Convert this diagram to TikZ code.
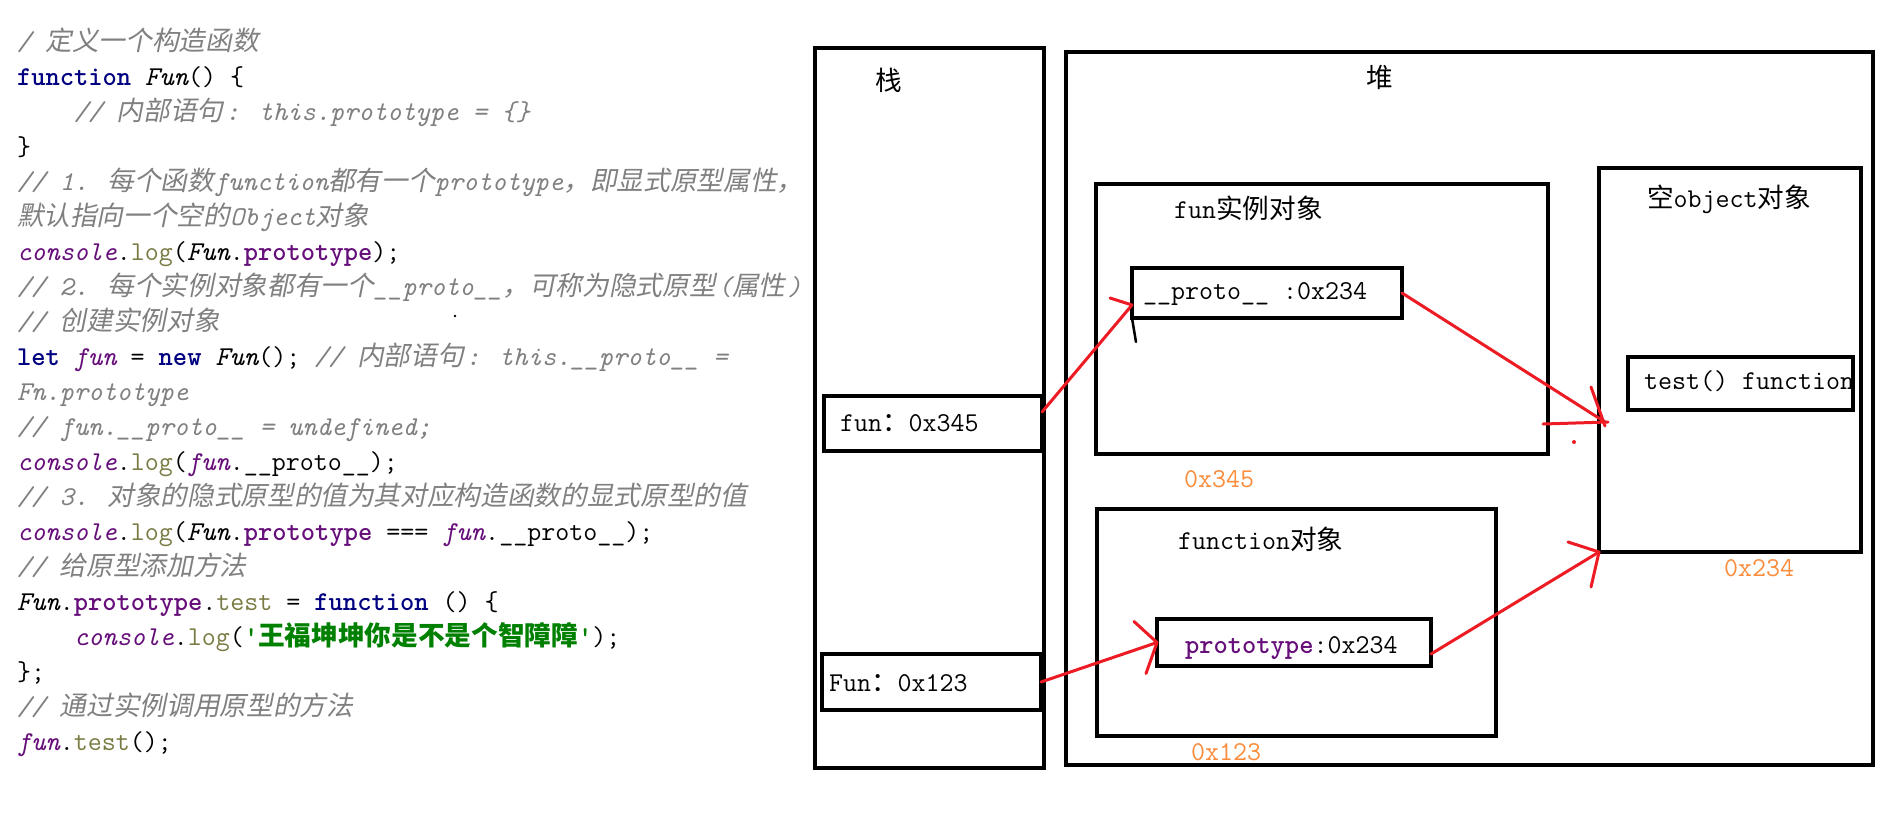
\documentclass[tikz,border=0pt]{standalone}
\usepackage{fontspec}
\newfontfamily\cjk[Scale=0.98]{Noto Sans CJK SC}
\newfontfamily\cjksl[Scale=0.98,FakeSlant=0.2]{Noto Sans CJK SC}
\definecolor{cmtgray}{RGB}{128,128,128}
\definecolor{kwnavy}{RGB}{0,0,128}
\definecolor{purp}{RGB}{102,14,122}
\definecolor{olivec}{RGB}{122,122,67}
\definecolor{strgreen}{RGB}{0,128,0}
\definecolor{addrorange}{RGB}{250,140,60}
\definecolor{redc}{RGB}{237,28,36}
\newcommand\cmt[1]{{\color{cmtgray}\itshape #1}}
\newcommand\cmtc[1]{{\color{cmtgray}\cjksl #1}}
\newcommand\kwd[1]{{\color{kwnavy}\bfseries #1}}
\newcommand\prp[1]{{\color{purp}\bfseries #1}}
\newcommand\pvar[1]{{\color{purp}\itshape #1}}
\newcommand\olv[1]{{\color{olivec}#1}}
\newcommand\itl[1]{{\itshape #1}}
\newcommand\cjt[1]{{\cjk #1}}
\newcommand\strg[1]{{\color{strgreen}\bfseries #1}}
\begin{document}
\begin{tikzpicture}[x=1pt,y=-1pt,
  font=\ttfamily\fontsize{27.2pt}{35pt}\selectfont,
  codeline/.style={anchor=base west, inner sep=0pt, outer sep=0pt},
  lbl/.style={anchor=base west, inner sep=0pt, outer sep=0pt},
  clbl/.style={anchor=center, inner sep=0pt, outer sep=0pt},
  addr/.style={lbl, text=addrorange},
  box/.style={draw, line width=4pt, inner sep=0pt, outer sep=0pt, anchor=north west},
  redln/.style={draw=redc, line width=3pt, line cap=round},
  tickln/.style={draw=black, line width=2.5pt, line cap=round}]
\useasboundingbox (0,0) rectangle (1904,827);
\fill[white] (0,0) rectangle (1904,827);

% ---------- code ----------
\node[codeline] (l1) at (17,50) {\cmt{/ }\cmtc{定义一个构造函数}};
\node[codeline] (l2) at (17,85) {\kwd{function} \itl{Fun}() \{};
\node[codeline] (l3) at (74,120) {\cmt{// }\cmtc{内部语句}\kern2pt\cmt{: this.prototype = \{\}}};
\node[codeline] (l4) at (17,155) {\}};
\node[codeline] (l5) at (17,190) {\cmt{// 1. }\cmtc{每个函数}\cmt{function}\cmtc{都有一个}\cmt{prototype}\cmtc{，即显式原型属性，}};
\node[codeline] (l6) at (17,225) {\cmtc{默认指向一个空的}\cmt{Object}\cmtc{对象}};
\node[codeline] (l7) at (17,260) {\pvar{console}.\olv{log}(\itl{Fun}.\prp{prototype});};
\node[codeline] (l8) at (17,295) {\cmt{// 2. }\cmtc{每个实例对象都有一个}\cmt{\_\_proto\_\_}\cmtc{，可称为隐式原型}\kern2pt\cmt{(}\cmtc{属性}\kern2pt\cmt{)}};
\node[codeline] (l9) at (17,330) {\cmt{// }\cmtc{创建实例对象}};
\node[codeline] (l10) at (17,365) {\kwd{let} \pvar{fun} = \kwd{new} \itl{Fun}(); \cmt{// }\cmtc{内部语句}\kern2pt\cmt{: this.\_\_proto\_\_ =}};
\node[codeline] (l11) at (17,400) {\cmt{Fn.prototype}};
\node[codeline] (l12) at (17,435) {\cmt{// fun.\_\_proto\_\_ = undefined;}};
\node[codeline] (l13) at (17,470) {\pvar{console}.\olv{log}(\pvar{fun}.\_\_proto\_\_);};
\node[codeline] (l14) at (17,505) {\cmt{// 3. }\cmtc{对象的隐式原型的值为其对应构造函数的显式原型的值}};
\node[codeline] (l15) at (17,540) {\pvar{console}.\olv{log}(\itl{Fun}.\prp{prototype} === \pvar{fun}.\_\_proto\_\_);};
\node[codeline] (l16) at (17,575) {\cmt{// }\cmtc{给原型添加方法}};
\node[codeline] (l17) at (17,610) {\itl{Fun}.\prp{prototype}.\olv{test} = \kwd{function} () \{};
\node[codeline] (l18) at (74,645) {\pvar{console}.\olv{log}(\strg{'\cjt{王福坤坤你是不是个智障障}'});};
\node[codeline] (l19) at (17,680) {\};};
\node[codeline] (l20) at (17,715) {\cmt{// }\cmtc{通过实例调用原型的方法}};
\node[codeline] (l21) at (17,750) {\pvar{fun}.\olv{test}();};
\fill (455,316) circle (1.3pt);

% ---------- boxes ----------
\node[box, minimum width=229pt, minimum height=720pt] (stack) at (815,48) {};
\node[box, minimum width=807pt, minimum height=713pt] (heap) at (1066,52) {};
\node[box, minimum width=452pt, minimum height=270pt] (funobj) at (1096,184) {};
\node[box, minimum width=270pt, minimum height=50pt] (protobox) at (1132,268) {};
\node[box, minimum width=218pt, minimum height=55pt] (stackfun) at (824,396) {};
\node[box, minimum width=399pt, minimum height=227pt] (fnobj) at (1097,509) {};
\node[box, minimum width=274pt, minimum height=47pt] (protoval) at (1157,619) {};
\node[box, minimum width=219pt, minimum height=56pt] (stackFun) at (822,654) {};
\node[box, minimum width=262pt, minimum height=384pt] (emptyobj) at (1599,168) {};
\node[box, minimum width=225pt, minimum height=53pt] (testbox) at (1628,357) {};

% ---------- labels ----------
\node[clbl] (stacklbl) at (889,80) {\cjt{栈}};
\node[clbl] (heaplbl) at (1380,77) {\cjt{堆}};
\node[lbl] (funobjlbl) at (1174,218) {fun\cjt{实例对象}};
\node[lbl] (protolbl) at (1143,299) {\_\_proto\_\_ :0x234};
\node[lbl] (stackfunlbl) at (840,431) {fun\cjt{：}0x345};
\node[addr] (addr345) at (1184,487) {0x345};
\node[lbl] (fnobjlbl) at (1178,549) {function\cjt{对象}};
\node[lbl] (protovallbl) at (1185,653) {\prp{prototype}:0x234};
\node[lbl] (stackFunlbl) at (829,691) {Fun\cjt{：}0x123};
\node[addr] (addr123) at (1191,760) {0x123};
\node[lbl] (emptylbl) at (1647,207) {\cjt{空}object\cjt{对象}};
\node[lbl] (testlbl) at (1644,389) {test() function};
\node[addr] (addr234) at (1724,576) {0x234};

% ---------- connectors ----------
\coordinate (a1s) at ([yshift=11.5pt]stackfun.east);
\coordinate (a1t) at ([yshift=-12pt]protobox.west);
\draw[redln] (a1s) -- (a1t);
\draw[redln] (a1t) -- ++(-22,-7);
\draw[tickln] (protobox.south west) -- ++(4,24);

\coordinate (a2t) at ([xshift=6pt,yshift=-62pt]emptyobj.west);
\draw[redln] (protobox.east) -- (a2t);
\draw[redln] ([yshift=-4pt]a2t) -- ++(-14,-39);
\draw[redln] ([xshift=3pt]a2t) -- ++(-65,2);
\fill[redc] (1574,442) circle (2pt);

\draw[redln] ([yshift=-11.5pt]protoval.east) -- (emptyobj.south west);
\draw[redln] (emptyobj.south west) -- ++(-31,-10);
\draw[redln] (emptyobj.south west) -- ++(-8,35);

\draw[redln] (stackFun.east) -- (protoval.west);
\draw[redln] (protoval.west) -- ++(-23,-21);
\draw[redln] (protoval.west) -- ++(-11,31);
\end{tikzpicture}
\end{document}
